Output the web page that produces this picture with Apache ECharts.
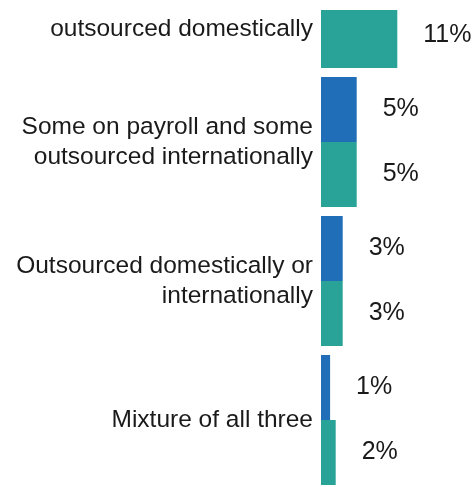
<!DOCTYPE html>
<html>
<head>
<meta charset="utf-8">
<script src="https://cdn.jsdelivr.net/npm/echarts@6/dist/echarts.min.js"></script>
<style>
html, body { margin: 0; padding: 0; background: #fff; overflow: hidden; width: 475px; height: 487px; }
#chart { width: 475px; height: 560px; margin-top: -70px; }
</style>
</head>
<body>
<div id="chart"></div>
<script>
const categories = [
  'outsourced domestically',
  'Some on payroll and some\noutsourced internationally',
  'Outsourced domestically or\ninternationally',
  'Mixture of all three'
];
const blueValues = [null, 5.1, 3.1, 1.3];
const tealValues = [10.9, 5.1, 3.1, 2.1];

const FONT = '"Liberation Sans", Arial, sans-serif';
const TEXT = '#1a1a1a';

const chart = echarts.init(document.getElementById('chart'), null, { renderer: 'canvas' });

const valueLabel = {
  show: true,
  position: 'right',
  distance: 26,
  fontFamily: FONT,
  fontSize: 25,
  color: TEXT,
  formatter: p => Math.round(p.value) + '%'
};

chart.setOption({
  animation: false,
  backgroundColor: '#fff',
  grid: { left: 321, right: 14, top: 3.5, bottom: 0.5, containLabel: false },
  xAxis: {
    type: 'value', min: 0, max: 20,
    axisLine: { show: false }, axisTick: { show: false },
    axisLabel: { show: false }, splitLine: { show: false }
  },
  yAxis: {
    type: 'category', inverse: true, data: categories,
    axisLine: { show: false }, axisTick: { show: false },
    axisLabel: {
      margin: 8, fontFamily: FONT, fontSize: 24.5, lineHeight: 30, color: TEXT,
      formatter: (v, i) => i === 0 ? '{p|' + v + '}' : v,
      rich: { p: { fontFamily: FONT, fontSize: 24.5, lineHeight: 30, color: TEXT, padding: [52, 0, 0, 0] } }
    }
  },
  series: [
    { name: 'Blue', type: 'bar', data: blueValues, barWidth: 65, barGap: '0%',
      itemStyle: { color: '#1F6EB7' }, label: valueLabel },
    { name: 'Teal', type: 'bar', data: tealValues, barWidth: 65, barGap: '0%',
      itemStyle: { color: '#29A397' }, label: valueLabel }
  ],
  graphic: [
    { type: 'rect', left: 300, top: 0, z: 100, shape: { width: 175, height: 80 }, style: { fill: '#fff' } }
  ]
});
</script>
</body>
</html>
